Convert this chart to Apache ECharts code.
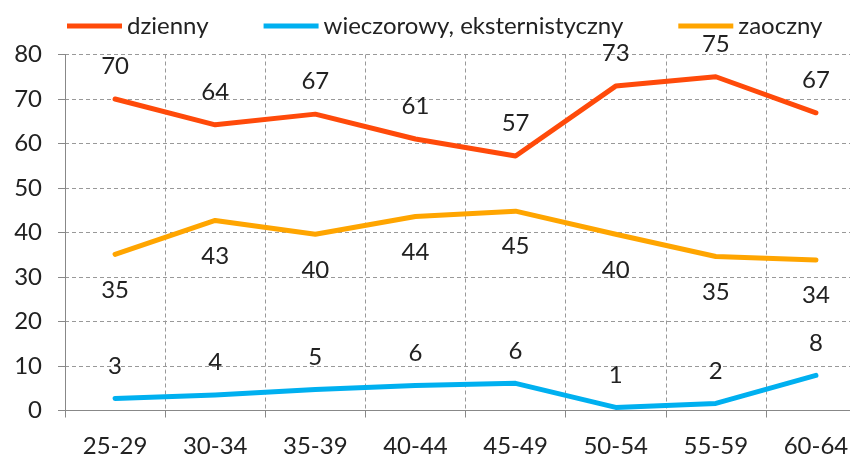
<!DOCTYPE html>
<html>
<head>
<meta charset="utf-8">
<script src="https://cdn.jsdelivr.net/npm/echarts@6/dist/echarts.min.js"></script>
<style>
  html, body { margin: 0; padding: 0; background: #fff; overflow: hidden; }
  /* the plot runs past the right edge of the window in the original */
  #chart { width: 866px; height: 454px; }
</style>
</head>
<body>
<div id="chart"></div>
<script>
const categories = ['25-29', '30-34', '35-39', '40-44', '45-49', '50-54', '55-59', '60-64'];
const dzienny = [70.0, 64.2, 66.6, 61.0, 57.2, 72.9, 75.0, 66.9];
const wieczorowy = [2.7, 3.5, 4.7, 5.6, 6.1, 0.7, 1.6, 7.9];
const zaoczny = [35.1, 42.7, 39.6, 43.6, 44.8, 39.6, 34.6, 33.8];
const seriesNames = ['dzienny', 'wieczorowy, eksternistyczny', 'zaoczny'];

const font = 'Lato, "Open Sans", sans-serif';
const colors = { red: '#ff4a0a', blue: '#00b0f0', amber: '#ffa500' };

const chart = echarts.init(document.getElementById('chart'));

function lineSeries(name, data, color, pos) {
  return {
    name,
    type: 'line',
    data,
    symbol: 'circle',
    symbolSize: 1,
    smooth: false,
    lineStyle: { width: 5, color, cap: 'round', join: 'round' },
    itemStyle: { color },
    label: {
      show: true,
      position: pos,
      distance: pos === 'top' ? 20 : 23,
      fontFamily: font,
      fontSize: 24,
      color: '#222',
      formatter: (p) => Math.round(p.value),
    },
  };
}

chart.setOption({
  animation: false,
  color: [colors.red, colors.blue, colors.amber],
  legend: {
    top: 9,
    left: 62,
    icon: 'rect',
    itemWidth: 55,
    itemHeight: 5,
    itemGap: 55,
    textStyle: { fontFamily: font, fontSize: 24, color: '#222' },
    data: seriesNames,
  },
  grid: { left: 65, right: 0, top: 54.5, bottom: 43.5, outerBoundsMode: 'none' },
  xAxis: {
    type: 'category',
    data: categories,
    boundaryGap: true,
    axisLine: { lineStyle: { color: '#888', width: 1 } },
    axisTick: { show: true, length: 7, lineStyle: { color: '#888' } },
    axisLabel: { fontFamily: font, fontSize: 24, color: '#222', margin: 24 },
    splitLine: { show: true, lineStyle: { color: '#999', type: [4, 3] } },
  },
  yAxis: {
    type: 'value',
    min: 0,
    max: 80,
    interval: 10,
    axisLine: { show: true, lineStyle: { color: '#888', width: 1 } },
    axisTick: { show: true, length: 7, lineStyle: { color: '#888' } },
    axisLabel: { fontFamily: font, fontSize: 24, color: '#222', margin: 23 },
    splitLine: { show: true, lineStyle: { color: '#999', type: [4, 3] } },
  },
  series: [
    lineSeries(seriesNames[0], dzienny, colors.red, 'top'),
    lineSeries(seriesNames[1], wieczorowy, colors.blue, 'top'),
    lineSeries(seriesNames[2], zaoczny, colors.amber, 'bottom'),
  ],
});
</script>
</body>
</html>
